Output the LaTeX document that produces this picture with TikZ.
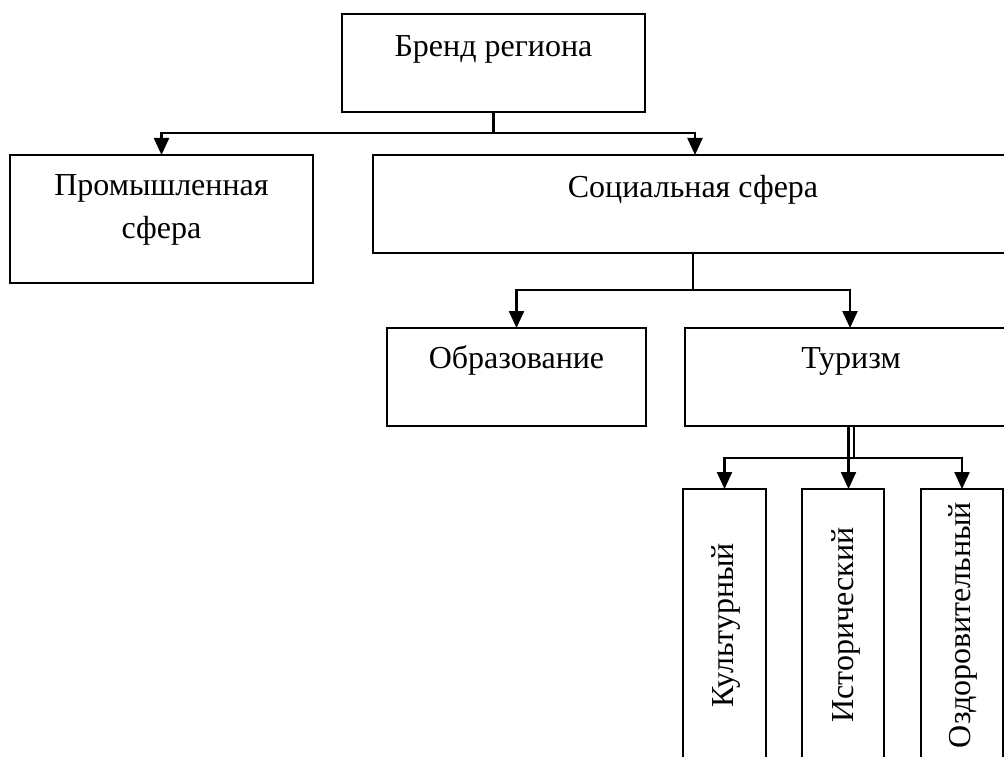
\documentclass[tikz,border=0pt]{standalone}
\usepackage{fontspec}
\setmainfont{Liberation Serif}
\usetikzlibrary{arrows.meta,calc}
\begin{document}
\begin{tikzpicture}[x=1pt,y=-1pt,
  box/.style={draw, line width=2.3pt, inner sep=0pt, outer sep=0pt, anchor=north west},
  lbl/.style={font=\fontsize{32}{43}\selectfont, anchor=base, inner sep=0pt, align=center},
  conn/.style={line width=2.3pt},
  arr/.style={conn, -{Triangle[width=15pt,length=17pt]}}]
\useasboundingbox (0,0) rectangle (1004,757);
\clip (0,0) rectangle (1004,757);
% boxes
\node[box, minimum width=303pt, minimum height=98pt] (brand) at (342,14) {};
\node[box, minimum width=303pt, minimum height=128pt] (prom) at (10,155) {};
\node[box, minimum width=640pt, minimum height=98pt] (soc) at (373,155) {};
\node[box, minimum width=259pt, minimum height=98pt] (obr) at (387,328) {};
\node[box, minimum width=332pt, minimum height=98pt] (tur) at (685,328) {};
\node[box, minimum width=83pt, minimum height=300pt] (kul) at (683,489) {};
\node[box, minimum width=82pt, minimum height=300pt] (ist) at (802,489) {};
\node[box, minimum width=82pt, minimum height=300pt] (ozd) at (921,489) {};
% texts
\node[lbl] (tbrand) at ($(brand.north)+(0,43)$) {Бренд региона};
\node[lbl] (tprom) at ($(prom.north)+(0,83)$) {Промышленная\\сфера};
\node[lbl] (tsoc) at ($(soc.north)+(0,42)$) {Социальная сфера};
\node[lbl] (tobr) at ($(obr.north)+(0,40)$) {Образование};
\node[lbl] (ttur) at ($(tur.north)+(0,40)$) {Туризм};
\node[lbl, rotate=90] (tkul) at (733,625) {Культурный};
\node[lbl, rotate=90] (tist) at (853,625) {Исторический};
\node[lbl, rotate=90] (tozd) at (970,625) {Оздоровительный};
% connectors
\coordinate (j1) at (brand.south |- 0,133);
\draw[conn] (brand.south) -- (j1);
\draw[arr] (j1) -| (prom.north);
\draw[arr] (j1) -| ([xshift=2pt]soc.north);
\coordinate (j2) at (693,290);
\draw[conn] (soc.south -| j2) -- (j2);
\draw[arr] (j2) -| (obr.north);
\draw[arr] (j2) -| ([xshift=-1pt]tur.north);
\coordinate (j3) at (848.5,458);
\coordinate (d1) at (854,458);
\draw[conn] (j3 |- tur.south) -- (j3);
\draw[conn] (d1 |- tur.south) -- (d1);
\draw[arr] (j3) -| (kul.north);
\draw[arr] (j3) -- (j3 |- ist.north);
\draw[arr] (j3) -| (ozd.north);
\end{tikzpicture}
\end{document}
